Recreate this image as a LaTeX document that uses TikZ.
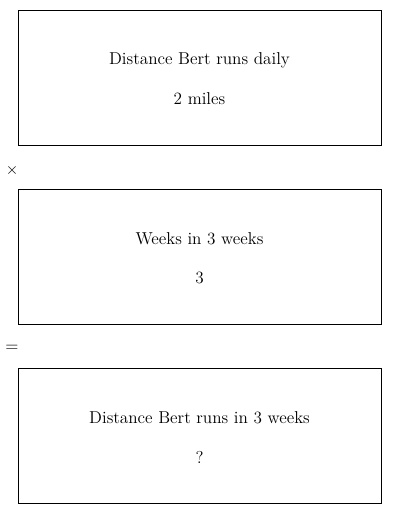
\documentclass[tikz,border=0pt]{standalone}
\usepackage{tikz}
\usetikzlibrary{positioning}

\begin{document}
\begin{tikzpicture}[x=0.75pt, y=-0.75pt,
    panel/.style={draw, line width=0.6pt, minimum width=272.25pt, minimum height=101.25pt, inner sep=0pt},
    txt/.style={font=\fontsize{12.9}{15}\selectfont, inner sep=0pt}]
            \useasboundingbox (0,0) rectangle (400,514);
            
            % Panels
            \node[panel] (daily) at (199.5,77.5) {};
            \node[panel] (weeks) at (199.5,256.5) {};
            \node[panel] (total) at (199.5,435.5) {};
            
            % Panel texts
            \node[txt] (dailyname) at (199.5,60) {Distance Bert runs daily};
            \node[txt] (dailyval) at (199.5,99) {2 miles};
            \node[txt] (weeksname) at (199.5,239) {Weeks in 3 weeks};
            \node[txt] (weeksval) at (199.5,278) {3};
            \node[txt] (totalname) at (199.5,418) {Distance Bert runs in 3 weeks};
            \node[txt] (totalval) at (199.5,457) {?};
            
            % Operators
            \node[txt] (times) at (12,170) {$\times$};
            \node[txt] (equals) at (12,348) {=};
        \end{tikzpicture}
\end{document}
